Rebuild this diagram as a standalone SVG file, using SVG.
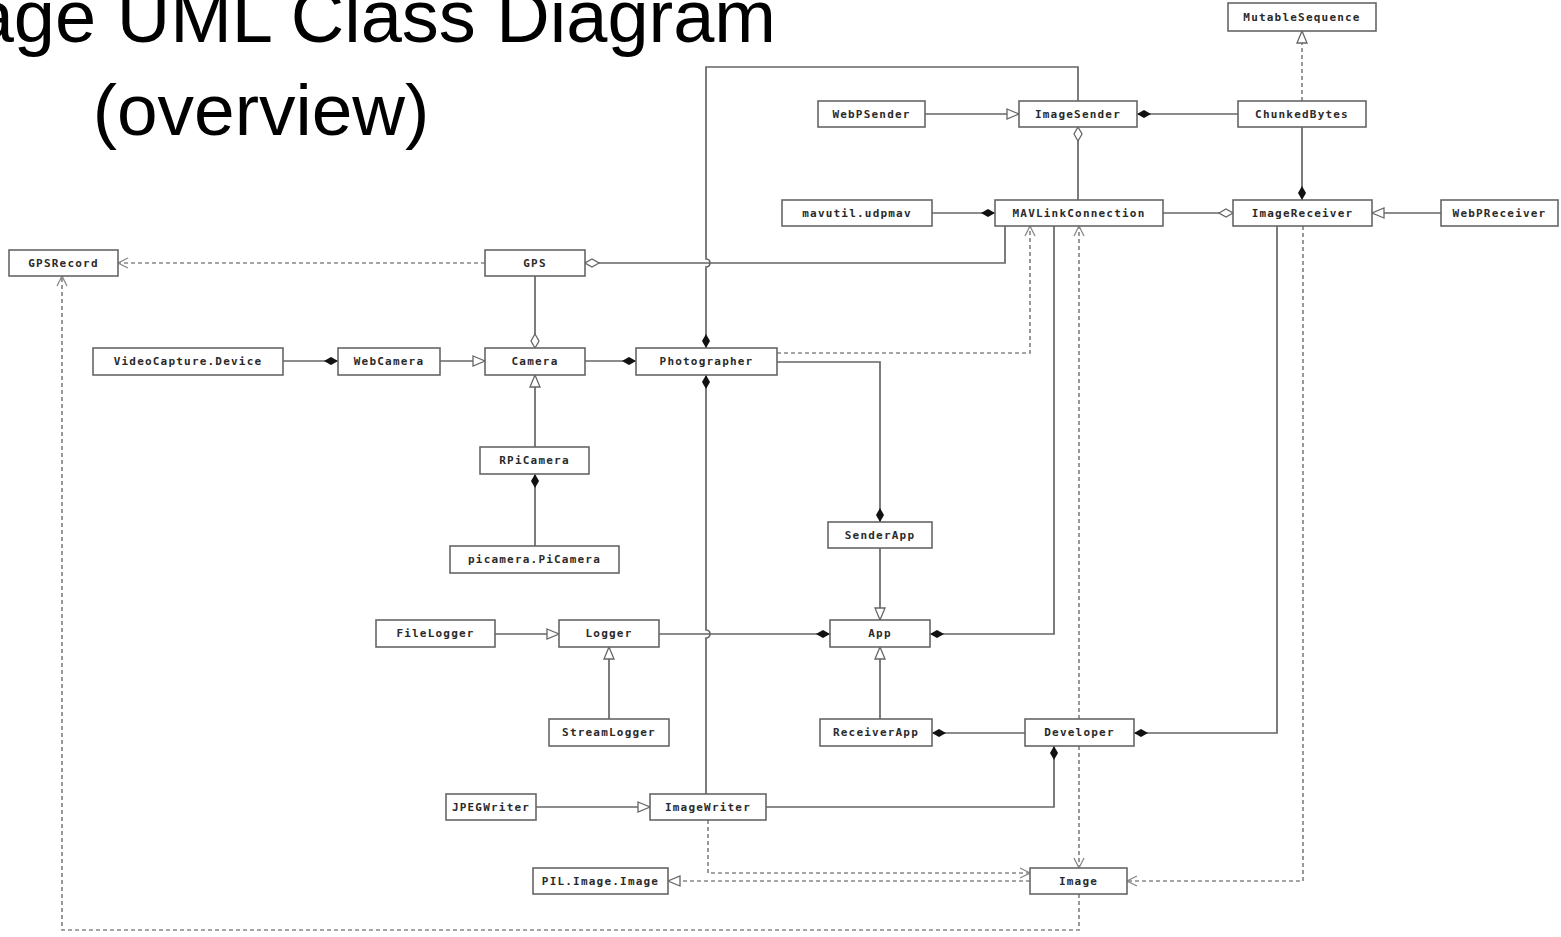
<svg xmlns="http://www.w3.org/2000/svg" width="1561" height="937" viewBox="0 0 1561 937">
  <style>
    .title { font-family: "Liberation Sans", Arial, sans-serif; font-size: 73px; fill: #000; }
    .node rect { fill: #fff; stroke: #666; stroke-width: 1.6; }
    .node text { font-family: "DejaVu Sans Mono", "Liberation Mono", monospace; font-weight: bold; font-size: 11px; letter-spacing: 1.2px; fill: #2a2a2a; text-anchor: middle; }
    .edge { fill: none; stroke: #666; stroke-width: 1.7; }
    .dep { stroke: #888; stroke-dasharray: 4 3; }
  </style>
  <defs>
    <marker id="diamond" viewBox="0 0 14 8" refX="14" refY="4" markerWidth="14" markerHeight="8" markerUnits="userSpaceOnUse" orient="auto">
      <path d="M0,4 L7,0 L14,4 L7,8 Z" fill="#111" stroke="none"/>
    </marker>
    <marker id="odiamond" viewBox="-1 -1 16 10" refX="14" refY="4" markerWidth="16" markerHeight="10" markerUnits="userSpaceOnUse" orient="auto">
      <path d="M0,4 L7,0 L14,4 L7,8 Z" fill="#fff" stroke="#666" stroke-width="1.3" stroke-dasharray="none"/>
    </marker>
    <marker id="tri" viewBox="-1 -1 14 12" refX="12" refY="5" markerWidth="14" markerHeight="12" markerUnits="userSpaceOnUse" orient="auto">
      <path d="M0,0 L12,5 L0,10 Z" fill="#fff" stroke="#666" stroke-width="1.3" stroke-dasharray="none"/>
    </marker>
    <marker id="open" viewBox="-1 -1 12 12" refX="10" refY="5" markerWidth="12" markerHeight="12" markerUnits="userSpaceOnUse" orient="auto">
      <path d="M0,0 L10,5 L0,10" fill="none" stroke="#888" stroke-width="1.3" stroke-dasharray="none"/>
    </marker>
  </defs>

  <rect width="1561" height="937" fill="#fff"/>

  <!-- heading, first line runs past the left edge -->
  <text class="title" x="776" y="42" text-anchor="end" style="font-size:74px">age UML Class Diagram</text>
  <text class="title" x="261" y="135" text-anchor="middle">(overview)</text>

  <g id="connectors">
    <!-- realisation / inheritance -->
    <path class="edge dep" d="M1302,101 V31" marker-end="url(#tri)"/>
    <path class="edge" d="M925,114 H1019" marker-end="url(#tri)"/>
    <path class="edge" d="M1441,213 H1372" marker-end="url(#tri)"/>
    <path class="edge" d="M440,361 H485" marker-end="url(#tri)"/>
    <path class="edge" d="M535,447 V375" marker-end="url(#tri)"/>
    <path class="edge" d="M880,548 V620" marker-end="url(#tri)"/>
    <path class="edge" d="M880,719 V647" marker-end="url(#tri)"/>
    <path class="edge" d="M495,634 H559" marker-end="url(#tri)"/>
    <path class="edge" d="M609,719 V647" marker-end="url(#tri)"/>
    <path class="edge" d="M536,807 H650" marker-end="url(#tri)"/>
    <path class="edge dep" d="M1030,881 H668" marker-end="url(#tri)"/>

    <!-- composition -->
    <path class="edge" d="M1238,114 H1137" marker-end="url(#diamond)"/>
    <path class="edge" d="M1302,127 V200" marker-end="url(#diamond)"/>
    <path class="edge" d="M932,213 H995" marker-end="url(#diamond)"/>
    <path class="edge" d="M283,361 H338" marker-end="url(#diamond)"/>
    <path class="edge" d="M585,361 H636" marker-end="url(#diamond)"/>
    <path class="edge" d="M535,546 V474" marker-end="url(#diamond)"/>
    <path class="edge" d="M777,362 H880 V522" marker-end="url(#diamond)"/>
    <path class="edge" d="M659,634 H830" marker-end="url(#diamond)"/>
    <path class="edge" d="M1054,226 V634 H930" marker-end="url(#diamond)"/>
    <path class="edge" d="M1025,733 H932" marker-end="url(#diamond)"/>
    <path class="edge" d="M1277,226 V733 H1134" marker-end="url(#diamond)"/>
    <path class="edge" d="M766,807 H1054 V746" marker-end="url(#diamond)"/>
    <path class="edge" d="M1078,101 V67 H706 V259 a4,4 0 0 1 0,8 V348" marker-end="url(#diamond)"/>
    <path class="edge" d="M706,794 V638 a4,4 0 0 0 0,-8 V375" marker-end="url(#diamond)"/>

    <!-- aggregation -->
    <path class="edge" d="M1078,200 V127" marker-end="url(#odiamond)"/>
    <path class="edge" d="M1163,213 H1233" marker-end="url(#odiamond)"/>
    <path class="edge" d="M1005,226 V263 H585" marker-end="url(#odiamond)"/>
    <path class="edge" d="M535,276 V348" marker-end="url(#odiamond)"/>

    <!-- dependencies -->
    <path class="edge dep" d="M485,263 H118" marker-end="url(#open)"/>
    <path class="edge dep" d="M1079,894 V930 H62 V276" marker-end="url(#open)"/>
    <path class="edge dep" d="M777,353 H1030 V226" marker-end="url(#open)"/>
    <path class="edge dep" d="M1079,719 V226" marker-end="url(#open)"/>
    <path class="edge dep" d="M1079,746 V868" marker-end="url(#open)"/>
    <path class="edge dep" d="M1303,226 V881 H1127" marker-end="url(#open)"/>
    <path class="edge dep" d="M708,820 V873 H1030" marker-end="url(#open)"/>
  </g>

  <g id="MutableSequence" class="node"><rect x="1228" y="3" width="148" height="28"/><text x="1302" y="21">MutableSequence</text></g>
  <g id="WebPSender" class="node"><rect x="818" y="101" width="107" height="26"/><text x="871.5" y="118">WebPSender</text></g>
  <g id="ImageSender" class="node"><rect x="1019" y="101" width="118" height="26"/><text x="1078" y="118">ImageSender</text></g>
  <g id="ChunkedBytes" class="node"><rect x="1238" y="101" width="128" height="26"/><text x="1302" y="118">ChunkedBytes</text></g>
  <g id="mavutil.udpmav" class="node"><rect x="782" y="200" width="150" height="26"/><text x="857" y="217">mavutil.udpmav</text></g>
  <g id="MAVLinkConnection" class="node"><rect x="995" y="200" width="168" height="26"/><text x="1079" y="217">MAVLinkConnection</text></g>
  <g id="ImageReceiver" class="node"><rect x="1233" y="200" width="139" height="26"/><text x="1302.5" y="217">ImageReceiver</text></g>
  <g id="WebPReceiver" class="node"><rect x="1441" y="200" width="117" height="26"/><text x="1499.5" y="217">WebPReceiver</text></g>
  <g id="GPSRecord" class="node"><rect x="9" y="250" width="109" height="26"/><text x="63.5" y="267">GPSRecord</text></g>
  <g id="GPS" class="node"><rect x="485" y="250" width="100" height="26"/><text x="535" y="267">GPS</text></g>
  <g id="VideoCapture.Device" class="node"><rect x="93" y="348" width="190" height="27"/><text x="188" y="365">VideoCapture.Device</text></g>
  <g id="WebCamera" class="node"><rect x="338" y="348" width="102" height="27"/><text x="389" y="365">WebCamera</text></g>
  <g id="Camera" class="node"><rect x="485" y="348" width="100" height="27"/><text x="535" y="365">Camera</text></g>
  <g id="Photographer" class="node"><rect x="636" y="348" width="141" height="27"/><text x="706.5" y="365">Photographer</text></g>
  <g id="RPiCamera" class="node"><rect x="480" y="447" width="109" height="27"/><text x="534.5" y="464">RPiCamera</text></g>
  <g id="picamera.PiCamera" class="node"><rect x="450" y="546" width="169" height="27"/><text x="534.5" y="563">picamera.PiCamera</text></g>
  <g id="SenderApp" class="node"><rect x="828" y="522" width="104" height="26"/><text x="880" y="539">SenderApp</text></g>
  <g id="FileLogger" class="node"><rect x="376" y="620" width="119" height="27"/><text x="435.5" y="637">FileLogger</text></g>
  <g id="Logger" class="node"><rect x="559" y="620" width="100" height="27"/><text x="609" y="637">Logger</text></g>
  <g id="App" class="node"><rect x="830" y="620" width="100" height="27"/><text x="880" y="637">App</text></g>
  <g id="StreamLogger" class="node"><rect x="549" y="719" width="120" height="27"/><text x="609" y="736">StreamLogger</text></g>
  <g id="ReceiverApp" class="node"><rect x="820" y="719" width="112" height="27"/><text x="876" y="736">ReceiverApp</text></g>
  <g id="Developer" class="node"><rect x="1025" y="719" width="109" height="27"/><text x="1079.5" y="736">Developer</text></g>
  <g id="JPEGWriter" class="node"><rect x="446" y="794" width="90" height="26"/><text x="491" y="811">JPEGWriter</text></g>
  <g id="ImageWriter" class="node"><rect x="650" y="794" width="116" height="26"/><text x="708" y="811">ImageWriter</text></g>
  <g id="PIL.Image.Image" class="node"><rect x="533" y="868" width="135" height="26"/><text x="600.5" y="885">PIL.Image.Image</text></g>
  <g id="Image" class="node"><rect x="1030" y="868" width="97" height="26"/><text x="1078.5" y="885">Image</text></g>
</svg>
